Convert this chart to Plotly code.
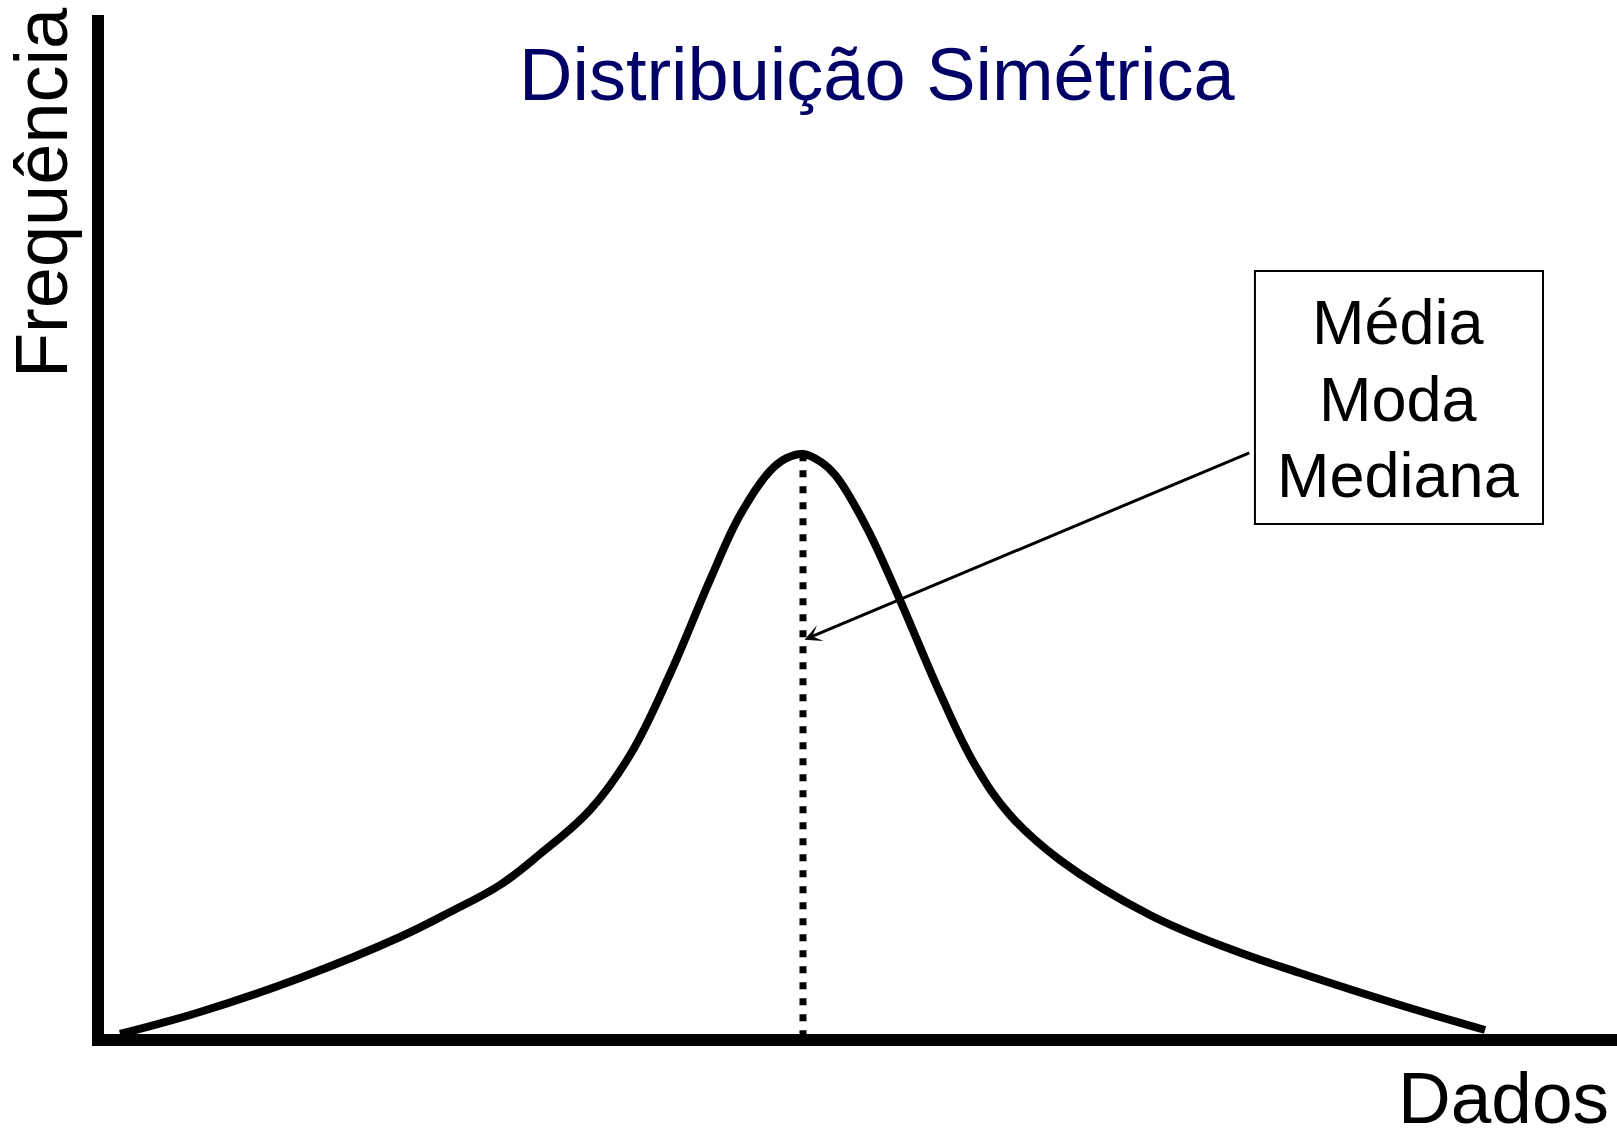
import plotly.graph_objects as go

# ---- data ----
dados = [1.06, 6.34, 12.95, 19.56, 22.87, 26.17, 28.82, 32.12, 34.77, 37.41, 40.05,
         42.04, 44.02, 45.14, 46.20, 47.39, 48.38, 50.36, 52.61, 55.25, 57.57, 59.88,
         63.18, 69.13, 74.62, 79.05, 85.66, 91.28]
frequencia = [0.0, 2.16, 5.50, 9.52, 11.97, 14.62, 17.66, 21.98, 27.38, 35.33, 44.55,
              50.93, 55.25, 56.53, 56.92, 56.13, 54.76, 49.85, 42.59, 33.46, 26.40, 21.49,
              17.08, 11.68, 8.24, 5.99, 2.85, 0.39]
centro_x = [46.2, 46.2]          # média = moda = mediana
centro_y = [56.9, 0.0]
seta_ponta = (46.3, 38.7)
seta_origem = (75.8, 57.1)
rotulos_centro = ["Média", "Moda", "Mediana"]

titulo = "Distribuição Simétrica"
rotulo_y = "Frequência"
rotulo_x = "Dados"

FONT = "Liberation Sans, Arial, sans-serif"

fig = go.Figure()
fig.add_trace(go.Scatter(x=dados, y=frequencia, mode="lines",
                         line=dict(color="black", width=8, shape="spline", smoothing=1.1),
                         hoverinfo="skip", showlegend=False))
fig.add_trace(go.Scatter(x=centro_x, y=centro_y, mode="lines",
                         line=dict(color="black", width=7, dash="7px,9px"),
                         hoverinfo="skip", showlegend=False))

# arrow
fig.add_annotation(x=seta_ponta[0], y=seta_ponta[1], ax=seta_origem[0], ay=seta_origem[1],
                   xref="x", yref="y", axref="x", ayref="y", text="",
                   showarrow=True, arrowhead=3, arrowsize=0.95, arrowwidth=3, arrowcolor="black")

# box with labels
fig.add_shape(type="rect", xref="paper", yref="paper",
              x0=0.7607, x1=0.9511, y0=0.5005, y1=0.7488,
              line=dict(color="black", width=2), fillcolor="white", layer="above")
for txt, yy in zip(rotulos_centro, [0.6984, 0.6236, 0.5488]):
    fig.add_annotation(x=0.8553, y=yy, xref="paper", yref="paper",
                       xanchor="center", yanchor="middle", showarrow=False,
                       text=txt, font=dict(family=FONT, size=63, color="black"))

# title
fig.add_annotation(x=(877 - 104) / 1513, y=0.9418, xref="paper", yref="paper",
                   xanchor="center", yanchor="middle", showarrow=False,
                   text=titulo, font=dict(family=FONT, size=74, color="#000066"))
# y label
fig.add_annotation(x=-0.0416, y=0.8253, xref="paper", yref="paper",
                   xanchor="center", yanchor="middle", showarrow=False, textangle=-90,
                   text=rotulo_y, font=dict(family=FONT, size=74, color="black"))
# x label
fig.add_annotation(x=0.925, y=-0.0628, xref="paper", yref="paper",
                   xanchor="center", yanchor="middle", showarrow=False,
                   text=rotulo_x, font=dict(family=FONT, size=73, color="black"))

axis_common = dict(showgrid=False, zeroline=False, showticklabels=False, ticks="",
                   showline=True, linecolor="black", linewidth=12, fixedrange=True)
fig.update_layout(
    width=1617, height=1130,
    margin=dict(l=104, r=0, t=15, b=96),
    paper_bgcolor="white", plot_bgcolor="white",
    xaxis=dict(range=[0, 100], **axis_common),
    yaxis=dict(range=[0, 100], **axis_common),
    showlegend=False,
)
fig.write_html("out.html", config={"displayModeBar": False},
               post_script="document.body.style.margin='0px';")
